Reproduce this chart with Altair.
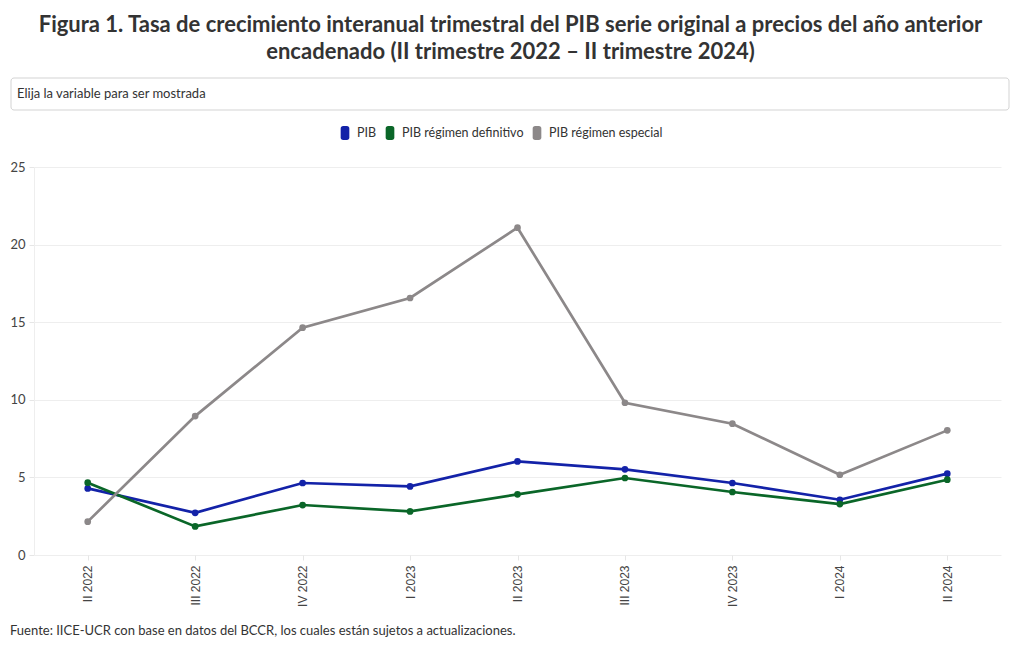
import altair as alt
import pandas as pd

trimestres = ["II 2022", "III 2022", "IV 2022", "I 2023", "II 2023",
              "III 2023", "IV 2023", "I 2024", "II 2024"]
pib = [4.29, 2.72, 4.64, 4.42, 6.03, 5.52, 4.64, 3.56, 5.24]
pib_definitivo = [4.66, 1.84, 3.22, 2.81, 3.91, 4.96, 4.06, 3.28, 4.85]
pib_especial = [2.15, 8.95, 14.65, 16.56, 21.09, 9.81, 8.46, 5.17, 8.03]

series = ["PIB", "PIB régimen definitivo", "PIB régimen especial"]
colores = ["#1322a8", "#0a6628", "#8c8889"]

rows = []
for nombre, valores in zip(series, [pib, pib_definitivo, pib_especial]):
    for t, v in zip(trimestres, valores):
        rows.append({"Trimestre": t, "Serie": nombre, "Valor": v})
df = pd.DataFrame(rows)

FONT = "Lato"
pill = ("M-0.2,-0.8 L0.2,-0.8 Q0.5,-0.8 0.5,-0.5 L0.5,0.5 Q0.5,0.8 0.2,0.8 "
        "L-0.2,0.8 Q-0.5,0.8 -0.5,0.5 L-0.5,-0.5 Q-0.5,-0.8 -0.2,-0.8 Z")

x_enc = alt.X("Trimestre:N", sort=trimestres,
              scale=alt.Scale(type="point", padding=0.5),
              axis=alt.Axis(title=None, labelAngle=-90, labelFont="Liberation Sans",
                            labelFontSize=12, labelColor="#444", labelPadding=5,
                            tickColor="#e6e6e6", tickSize=5, domain=False,
                            grid=False, labelAlign="right", labelBaseline="middle"))
y_enc = alt.Y("Valor:Q", scale=alt.Scale(domain=[0, 25], nice=False),
              axis=alt.Axis(title=None, values=[0, 5, 10, 15, 20, 25],
                            labelFont=FONT, labelFontSize=13, labelColor="#444",
                            labelPadding=4, tickColor="#e6e6e6", tickSize=5,
                            gridColor="#eeeeee", domainColor="#eeeeee"))
color_enc = alt.Color("Serie:N", sort=series,
                      scale=alt.Scale(domain=series, range=colores),
                      legend=alt.Legend(title=None, orient="none", direction="horizontal",
                                        legendX=302, legendY=-43,
                                        symbolType=pill, symbolSize=300,
                                        symbolStrokeWidth=0, symbolOpacity=1,
                                        labelFont=FONT, labelFontSize=12.5,
                                        labelColor="#333", labelOffset=3,
                                        columnPadding=4, symbolLimit=0))

base = alt.Chart(df).encode(x=x_enc, y=y_enc, color=color_enc)
lines = base.mark_line(strokeWidth=2.7)
points = base.mark_point(filled=True, size=45, opacity=1)

box = alt.Chart(pd.DataFrame({"t": ["Elija la variable para ser mostrada"]})).mark_rect(
    fill="white", stroke="#d3d3d3", strokeWidth=1, cornerRadius=3
).encode(x=alt.value(-23), x2=alt.value(975), y=alt.value(-89), y2=alt.value(-57))

box_text = alt.Chart(pd.DataFrame({"t": ["Elija la variable para ser mostrada"]})).mark_text(
    align="left", baseline="middle", font=FONT, fontSize=13, color="#333"
).encode(x=alt.value(-17), y=alt.value(-73), text="t:N")

footer = alt.Chart(pd.DataFrame({"t": ["Fuente: IICE-UCR con base en datos del BCCR, los cuales están sujetos a actualizaciones."]})).mark_text(
    align="left", baseline="middle", font=FONT, fontSize=13, color="#333"
).encode(x=alt.value(-24), y=alt.value(464), text="t:N")

chart = alt.layer(box, box_text, lines, points, footer).properties(
    width=967, height=388,
    autosize=alt.AutoSizeParams(type="none"),
    padding={"left": 26, "top": 159, "right": 10, "bottom": 87},
    title=alt.Title(
        ["Figura 1. Tasa de crecimiento interanual trimestral del PIB serie original a precios del año anterior",
         "encadenado (II trimestre 2022 – II trimestre 2024)"],
        font=FONT, fontSize=22, fontWeight="bold", color="#333",
        anchor="middle", dx=-7, offset=14, lineHeight=27),
).configure(background="white").configure_view(stroke=None)

chart.save("out.html", embed_options={"renderer": "svg", "actions": False})
